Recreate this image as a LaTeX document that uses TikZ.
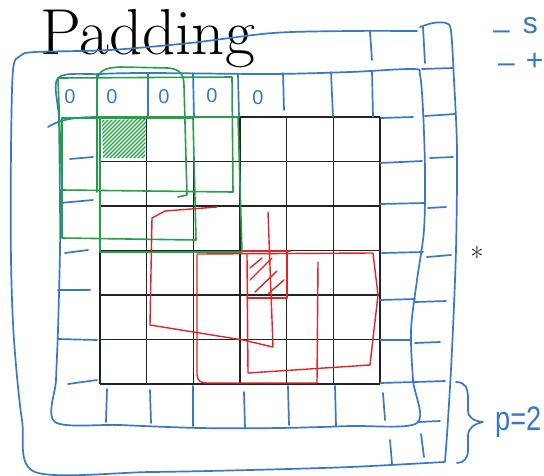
\documentclass[tikz,border=0pt]{standalone}
\usepackage{fontspec}
\newfontfamily\handfont{Liberation Sans}
\definecolor{penblue}{RGB}{55,120,200}
\definecolor{pengreen}{RGB}{35,160,70}
\definecolor{penred}{RGB}{230,35,35}
\definecolor{gridc}{RGB}{35,35,35}
\tikzset{
  bluepen/.style={draw=penblue, line width=1.7pt, line cap=round, line join=round},
  greenpen/.style={draw=pengreen, line width=1.6pt, line cap=round, line join=round},
  redpen/.style={draw=penred, line width=1.4pt, line cap=round, line join=round},
  gridline/.style={draw=gridc, line width=1.5pt},
  handtext/.style={text=penblue, font=\handfont, inner sep=0pt},
}
\begin{document}
\begin{tikzpicture}[x=1pt,y=-1pt]
\useasboundingbox (0,0) rectangle (544,475);
\fill[white] (0,0) rectangle (544,475);

% title
\node[anchor=base west, inner sep=0pt, font=\fontsize{65}{66}\selectfont] (title) at (40,54) {Padding};

% 6x6 grid
\foreach \i in {0,...,6} {
  \draw[gridline] ({100+46.67*\i},117) -- ({100+46.67*\i},384);
  \draw[gridline] (100,{117+44.5*\i}) -- (380,{117+44.5*\i});
}

% outer padding ring
\draw[bluepen] plot[smooth, tension=0.5] coordinates {(417,31) (350,31) (273,33) (190,43) (110,50) (35,52) (20,56) (13,70) (11,150) (11,260) (14,340) (22,420) (35,472) (150,472) (250,470) (350,467) (444,462)};
\draw[bluepen] plot[smooth, tension=0.5] coordinates {(420,27) (433,23) (446,23) (451,31) (454,80) (457,150) (456,250) (452,350) (448,420) (445,462)};
\draw[bluepen] (370,32) -- (372,60);
\draw[bluepen] (423,27) -- (425,63);
\foreach \a/\b/\c/\d in {422/69/453/68, 425/116/455/114, 430/158/453/157, 428/208/446/207, 427/257/451/255, 415/302/446/301, 415/343/440/342, 415/382/445/381, 418/422/440/421}
  \draw[bluepen] (\a,\b) -- (\c,\d);
\draw[bluepen] (390,440) -- (392,464);
\draw[bluepen] (421,434) -- (424,457);

% inner padding ring
\draw[bluepen] plot[smooth cycle, tension=0.5] coordinates {(58,78) (100,74) (150,73) (270,74) (350,72) (413,69) (420,75) (423,110) (425,170) (424,230) (417,280) (411,330) (413,380) (417,423) (350,426) (280,428) (200,428) (120,425) (55,422) (56,380) (58,330) (60,250) (60,200) (59,120)};
\foreach \a/\b/\c/\d in {97/75/97/117, 148/73/148/117, 193/73/194/117, 238/74/239/117, 283/73/284/110, 331/72/333/117, 372/71/373/117,
  70/159/93/157, 60/203/93/200, 65/253/88/250, 58/290/90/290, 58/339/97/340, 68/384/97/380,
  381/118/413/117, 380/163/422/161, 380/204/425/203, 382/253/423/252, 380/300/415/299, 380/340/410/340, 380/383/415/382,
  107/389/106/422, 150/390/151/423, 193/386/193/426, 244/392/245/428, 288/386/289/425, 335/386/336/426, 383/393/385/420}
  \draw[bluepen] (\a,\b) -- (\c,\d);
\draw[bluepen] (48,127) .. controls (62,118) and (80,117) .. (100,117);

% zeros in the padding
\foreach \x/\y [count=\n] in {70/97, 112/97, 164/97, 212/96, 258/98}
  \node[handtext, font=\handfont\fontsize{20}{20}\selectfont] (z\n) at (\x,\y) {0};

% green filter positions
\draw[greenpen] (58,78) -- (232,77) -- (233,192) -- (62,190) -- cycle;
\draw[greenpen] (97,192) -- (97,82) .. controls (98,70) and (105,68) .. (120,67) -- (168,68) .. controls (180,69) and (184,74) .. (184,86) -- (187,195) -- (178,197);
\draw[greenpen] (62,118) -- (62,238) -- (196,240) -- (193,118) -- cycle;
\draw[greenpen] (100,117) -- (100,252) -- (242,252) -- (238,117) -- cycle;
\begin{scope}
  \clip (102,120) -- (146,119) -- (145,158) -- (103,158) -- cycle;
  \foreach \k in {-13,...,13}
    \draw[pengreen, line width=1.4pt] ({102+4*\k},162) -- ({102+4*\k+45},117);
\end{scope}

% red filter positions
\draw[redpen] (217,207) -- (165,211) -- (152,218) -- (150,325) -- (243,340) -- (273,347) -- (268,212);
\draw[redpen] (197,255) -- (197,375) .. controls (198,381) and (200,383) .. (208,383) -- (317,383) -- (318,262);
\draw[redpen] (197,254) -- (373,253) -- (378,295) -- (370,365) -- (248,373) -- (247,255);
\draw[redpen, line width=2.4pt] (243,251) -- (290,251);
\draw[redpen] (287,252) -- (287,298) -- (247,298);
\foreach \a/\b/\c/\d in {250/280/272/258, 250/268/262/258, 255/292/277/271, 268/294/284/280}
  \draw[redpen] (\a,\b) -- (\c,\d);

% star
\node[inner sep=0pt, font=\fontsize{28}{28}\selectfont] (star) at (477,257) {*};

% brace and p=2
\draw[bluepen] (456,382) .. controls (466,382) and (468,389) .. (468,399) -- (468,410) .. controls (468,418) and (474,421) .. (483,422) .. controls (474,424) and (468,428) .. (468,436) -- (468,450) .. controls (468,458) and (464,463) .. (457,463);
\node[handtext, anchor=base west, font=\handfont\fontsize{34}{34}\selectfont] (p) at (495,430) {\scalebox{0.8}[1]{p=2}};

% notes at top right
\node[handtext, anchor=base west, font=\handfont\fontsize{30}{30}\selectfont] (n1) at (493,33) {\raisebox{-6pt}{–}\hspace{13pt}s};
\node[handtext, anchor=base west, font=\handfont\fontsize{30}{30}\selectfont] (n2) at (498,70) {\raisebox{-2pt}{–}\hspace{11pt}+};
\end{tikzpicture}
\end{document}
